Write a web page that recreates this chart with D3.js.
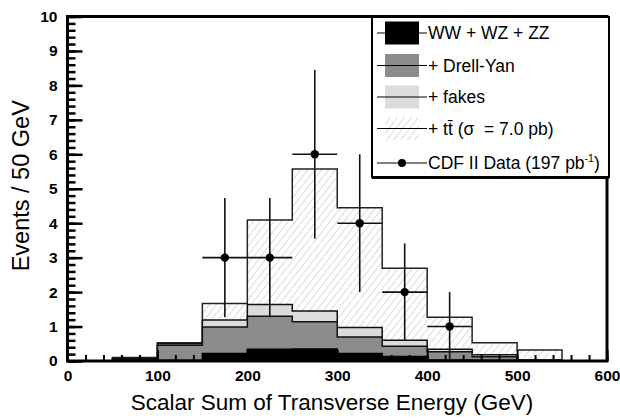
<!DOCTYPE html>
<html>
<head>
<meta charset="utf-8">
<script src="https://cdn.jsdelivr.net/npm/d3@7"></script>
<style>
  body { margin: 0; background: white; }
  text { font-family: "Liberation Sans", Arial, Helvetica, sans-serif; }
</style>
</head>
<body>
<div id="chartArea"></div>
<script>
// bin edges, 50 GeV wide
const binEdges = d3.range(0, 601, 50);

// per-process expectation in each bin (events / 50 GeV)
const diboson = [0, 0.01, 0.02, 0.22, 0.34, 0.35, 0.22, 0.13, 0.03, 0.02, 0.01, 0];
const drellYan = [0, 0.04, 0.44, 0.77, 0.96, 0.79, 0.48, 0.30, 0.24, 0.10, 0.01, 0];
const fakes = [0, 0.02, 0.04, 0.20, 0.34, 0.31, 0.27, 0.17, 0.07, 0.06, 0.01, 0];
const ttbar = [0, 0.03, 0.03, 0.48, 2.45, 4.12, 3.48, 2.09, 0.93, 0.35, 0.29, 0];

// data points
const dataX = [175, 225, 275, 325, 375, 425];
const dataN = [3, 3, 6, 4, 2, 1];

const xTicks = [0, 100, 200, 300, 400, 500, 600];
const yTicks = [0, 1, 2, 3, 4, 5, 6, 7, 8, 9, 10];

const W = 620, H = 419;
const padL = 67.5, padR = 607, padT = 16.5, padB = 361;

const black = "#000", dyGrey = "#8c8c8c", fakeGrey = "#dcdcdc", hatchGrey = "#c4c4c4";

const svg = d3.select("#chartArea").append("svg")
  .attr("width", W)
  .attr("height", H);

const defs = svg.append("defs");
const pat = defs.append("pattern")
  .attr("id", "hatch")
  .attr("patternUnits", "userSpaceOnUse")
  .attr("width", 5.5).attr("height", 6)
  .attr("patternTransform", "rotate(38)");
pat.append("rect").attr("width", 5.5).attr("height", 6).attr("fill", "white");
pat.append("line")
  .attr("x1", 0).attr("y1", 0).attr("x2", 0).attr("y2", 6)
  .attr("stroke", hatchGrey).attr("stroke-width", 1.2);

const x = d3.scaleLinear().domain([0, 600]).range([padL, padR]);
const y = d3.scaleLinear().domain([0, 10]).range([padB, padT]);

// cumulative stack
function cumulate(...arrs) {
  return binEdges.slice(0, -1).map((e, i) => d3.sum(arrs, a => a[i]));
}
const cumWW = cumulate(diboson);
const cumDY = cumulate(diboson, drellYan);
const cumFk = cumulate(diboson, drellYan, fakes);
const cumTT = cumulate(diboson, drellYan, fakes, ttbar);

function stepPoints(vals) {
  const pts = vals.map((v, i) => [binEdges[i], v]);
  pts.push([binEdges[binEdges.length - 1], vals[vals.length - 1]]);
  return pts;
}
const area = d3.area().curve(d3.curveStepAfter)
  .x(d => x(d[0])).y0(y(0)).y1(d => y(d[1]));
const line = d3.line().curve(d3.curveStepAfter)
  .x(d => x(d[0])).y(d => y(d[1]));

const layers = [
  { vals: cumTT, fill: "url(#hatch)", stroke: "#222" },
  { vals: cumFk, fill: fakeGrey, stroke: "#111" },
  { vals: cumDY, fill: dyGrey, stroke: "#111" },
  { vals: cumWW, fill: black, stroke: black }
];
layers.forEach(l => {
  svg.append("path").attr("d", area(stepPoints(l.vals))).attr("fill", l.fill);
  svg.append("path").attr("d", line(stepPoints(l.vals)))
    .attr("fill", "none").attr("stroke", l.stroke).attr("stroke-width", 1.5);
});

// data with sqrt(N) errors
const pts = svg.append("g");
dataX.forEach((cx, i) => {
  const n = dataN[i], e = Math.sqrt(n);
  pts.append("line")
    .attr("x1", x(cx - 25)).attr("x2", x(cx + 25))
    .attr("y1", y(n)).attr("y2", y(n))
    .attr("stroke", "#111").attr("stroke-width", 1.6);
  pts.append("line")
    .attr("x1", x(cx)).attr("x2", x(cx))
    .attr("y1", y(Math.max(0, n - e))).attr("y2", y(n + e))
    .attr("stroke", "#111").attr("stroke-width", 1.6);
  pts.append("circle").attr("cx", x(cx)).attr("cy", y(n)).attr("r", 4.2).attr("fill", black);
});

// axes, ticks pointing inside
function styleAxis(g, sw) {
  g.select(".domain").remove();
  g.selectAll(".tick line").attr("stroke", black).attr("stroke-width", sw);
  g.selectAll(".tick text")
    .attr("font-family", "'Liberation Sans', Arial, sans-serif")
    .attr("font-weight", "bold").attr("font-size", 15.5).attr("fill", black);
}
svg.append("g").attr("transform", `translate(0,${padB})`)
  .call(d3.axisBottom(x).tickValues(d3.range(0, 601, 20)).tickSize(-6).tickFormat(""))
  .call(g => styleAxis(g, 2));
svg.append("g").attr("transform", `translate(0,${padB})`)
  .call(d3.axisBottom(x).tickValues(xTicks).tickSize(-11).tickPadding(9).tickFormat(d3.format("d")))
  .call(g => styleAxis(g, 2));
svg.append("g").attr("transform", `translate(${padL},0)`)
  .call(d3.axisLeft(y).tickValues(d3.range(0, 10.01, 0.2)).tickSize(-8).tickFormat(""))
  .call(g => styleAxis(g, 2.5));
svg.append("g").attr("transform", `translate(${padL},0)`)
  .call(d3.axisLeft(y).tickValues(yTicks).tickSize(-15).tickPadding(10).tickFormat(d3.format("d")))
  .call(g => styleAxis(g, 2.5));

// frame
svg.append("rect")
  .attr("x", padL).attr("y", padT)
  .attr("width", padR - padL).attr("height", padB - padT)
  .attr("fill", "none").attr("stroke", black).attr("stroke-width", 3);

// axis titles
svg.append("text")
  .attr("x", 332).attr("y", 410)
  .attr("text-anchor", "middle").attr("font-size", 22.5)
  .text("Scalar Sum of Transverse Energy (GeV)");
svg.append("text")
  .attr("transform", `translate(29,${(padT + padB) / 2 - 3}) rotate(-90)`)
  .attr("text-anchor", "middle").attr("font-size", 23.5)
  .text("Events / 50 GeV");

// legend
const lg = svg.append("g");
const lx0 = 372, ly0 = 17, lx1 = 609, ly1 = 177;
lg.append("rect").attr("x", lx0).attr("y", ly0).attr("width", lx1 - lx0).attr("height", ly1 - ly0)
  .attr("fill", "white").attr("stroke", black).attr("stroke-width", 2);
lg.append("line").attr("x1", lx0).attr("x2", lx1).attr("y1", ly1 + 0.5).attr("y2", ly1 + 0.5)
  .attr("stroke", black).attr("stroke-width", 3);

const entryY = [33, 65.5, 97, 128.5, 163];
const entryFill = [black, dyGrey, fakeGrey, "url(#hatch)", null];
entryY.forEach((cy, i) => {
  if (entryFill[i]) {
    lg.append("rect").attr("x", 385).attr("y", cy - 11.5).attr("width", 34).attr("height", 23)
      .attr("fill", entryFill[i]);
  }
  lg.append("line").attr("x1", 377).attr("x2", 427).attr("y1", cy).attr("y2", cy)
    .attr("stroke", black).attr("stroke-width", 1.2);
  if (i === 4) lg.append("circle").attr("cx", 402).attr("cy", cy).attr("r", 4).attr("fill", black);
});
function ltext(i) {
  return lg.append("text").attr("x", 428).attr("y", entryY[i] + 6).attr("font-size", 17.5);
}
ltext(0).text("WW + WZ + ZZ");
ltext(1).text("+ Drell-Yan");
ltext(2).text("+ fakes");
ltext(3).text("+ tt\u0304 (\u03c3  = 7.0 pb)").style("white-space", "pre");
const dt = ltext(4);
dt.append("tspan").text("CDF II Data (197 pb");
dt.append("tspan").attr("font-size", 10.5).attr("dy", -7).text("-1");
dt.append("tspan").attr("dy", 7).text(")");
</script>
</body>
</html>
